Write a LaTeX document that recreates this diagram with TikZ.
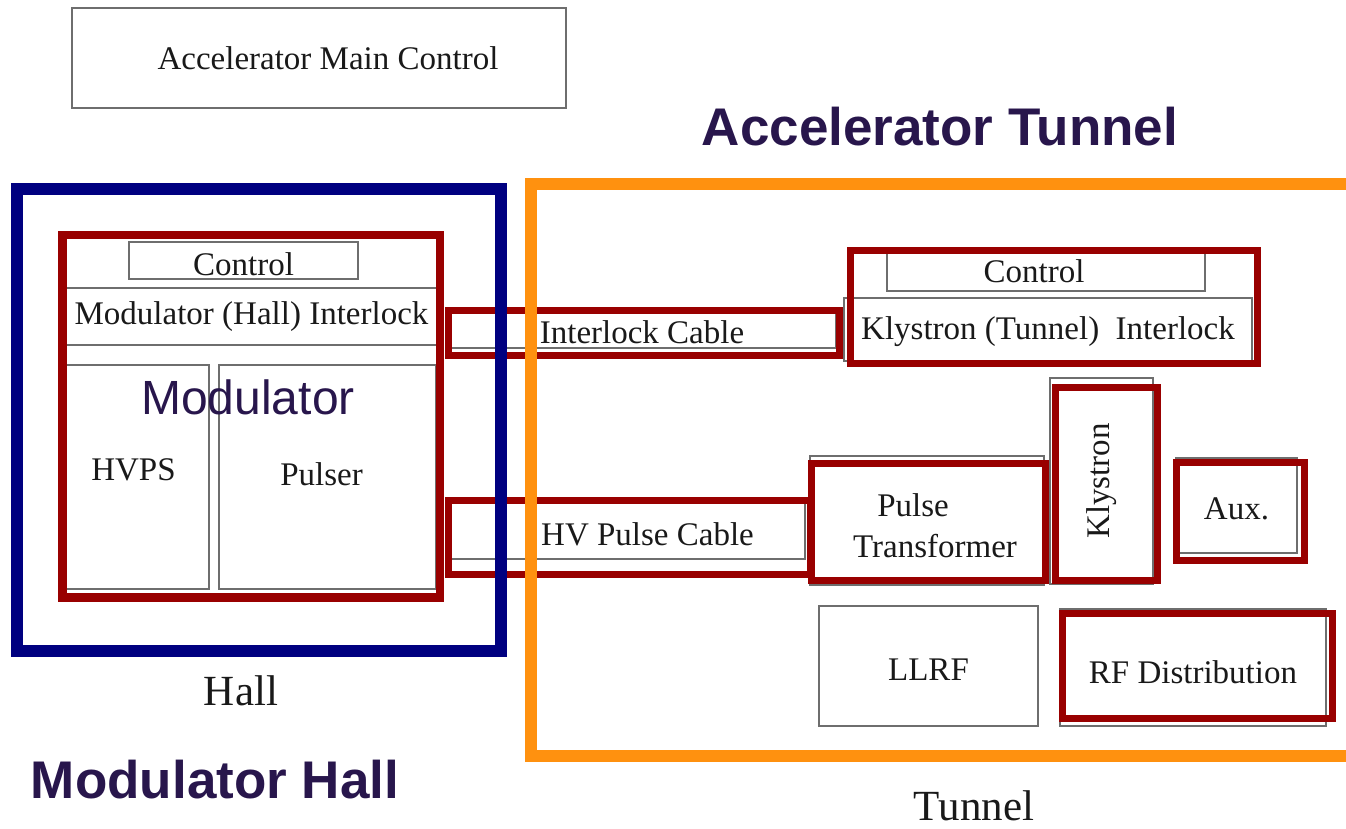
\documentclass[tikz,border=0pt]{standalone}
\usepackage{fontspec}
\setmainfont{Liberation Serif}
\setsansfont{Liberation Sans}
\usepackage{tikz}
\usetikzlibrary{positioning}
\definecolor{frred}{RGB}{153,0,0}
\definecolor{hallblue}{RGB}{0,0,128}
\definecolor{tunorange}{RGB}{255,145,15}
\definecolor{titlepurple}{RGB}{40,22,76}
\definecolor{boxgray}{RGB}{110,110,110}
\newcommand{\lblfont}{\fontsize{33}{41}\selectfont}
\tikzset{
  graybox/.style={draw=boxgray, line width=1.3pt, inner sep=0pt, font=\lblfont,
                  text=black!90, align=center},
  redframe/.style={draw=frred, line width=7pt, inner sep=0pt},
  lbl/.style={font=\lblfont, text=black!90, inner sep=0pt},
  arealbl/.style={font=\fontsize{43}{50}\selectfont, text=black!90, inner sep=0pt},
  titletext/.style={font=\fontsize{53}{60}\selectfont\sffamily\bfseries, text=titlepurple, inner sep=0pt},
  modtext/.style={font=\fontsize{48}{56}\selectfont\sffamily, text=titlepurple, inner sep=0pt}
}

\begin{document}
\begin{tikzpicture}[x=1pt, y=-1pt]
  \useasboundingbox (0,0) rectangle (1346,829);

  % Main control
  \node[graybox, minimum width=494, minimum height=100,
        label={[lbl, xshift=9]center:Accelerator Main Control}] (amc) at (319,58) {};

  % Hall side: modulator
  \node[graybox, minimum width=229, minimum height=37, text height=29.5] (hallctl) at (243.5,260.5) {Control};
  \node[graybox, minimum width=371, minimum height=57] (hallilk) at (251.5,316.5)
        {Modulator (Hall) Interlock};
  \node[graybox, minimum width=143, minimum height=224,
        label={[lbl, xshift=-4, yshift=7]center:HVPS}] (hvps) at (137.5,477) {};
  \node[graybox, minimum width=217, minimum height=224,
        label={[lbl, xshift=-6, yshift=3]center:Pulser}] (pulser) at (327.5,477) {};
  \node[redframe, line width=8.5pt, minimum width=377.5, minimum height=362.5] (modframe) at (251,416) {};
  \node[modtext] (modlabel) at (248,397) {Modulator};

  % Cables
  \node[graybox, minimum width=388, minimum height=36, text height=26.5] (ilkcable) at (642,330) {Interlock Cable};
  \node[graybox, minimum width=359, minimum height=56,
        label={[lbl, xshift=22, yshift=-3]center:HV Pulse Cable}] (hvcable) at (625.5,531) {};
  \node[redframe, minimum width=391, minimum height=44.5] (ilkred) at (643.5,332.75) {};
  \node[redframe, minimum width=362, minimum height=74] (hvred) at (629,537) {};

  % Tunnel side
  \node[graybox, minimum width=318, minimum height=41,
        label={[lbl, xshift=-12, yshift=-1]center:Control}] (tunctl) at (1046,270.5) {};
  \node[graybox, minimum width=408, minimum height=63, text height=27.5] (tunilk) at (1048,329.5)
        {Klystron (Tunnel)\ \ Interlock};
  \node[graybox, rotate=90, minimum width=206, minimum height=103] (klystron) at (1101.5,481) {Klystron};
  \node[graybox, minimum width=234, minimum height=129,
        label={[lbl, align=center, xshift=8, yshift=-5.5]center:Pulse\hspace*{44pt}\\Transformer}] (ptrans) at (927,520.5) {};
  \node[graybox, minimum width=121, minimum height=95, text height=27.5] (aux) at (1236.5,505.5) {Aux.};
  \node[graybox, minimum width=219, minimum height=120, text height=29.5] (llrf) at (928.5,666) {LLRF};
  \node[graybox, minimum width=266, minimum height=117, text height=33] (rfdist) at (1193,667.5) {RF Distribution};

  \node[redframe, minimum width=407, minimum height=113] (tunilkred) at (1053.5,306.5) {};
  \node[redframe, minimum width=102, minimum height=193] (klyred) at (1106,483.5) {};
  \node[redframe, minimum width=234, minimum height=117] (ptred) at (928,521.5) {};
  \node[redframe, minimum width=128, minimum height=98] (auxred) at (1240,511) {};
  \node[redframe, minimum width=270, minimum height=105] (rfred) at (1197,665.5) {};

  % Areas
  \node[draw=hallblue, line width=12pt, minimum width=484, minimum height=461.5] (hall) at (259,420.25) {};
  \node[draw=tunorange, line width=12pt, minimum width=869, minimum height=572] (tunnel) at (965.5,470) {};

  \node[arealbl] (halllbl) at (241,691) {Hall};
  \node[arealbl] (tunlbl) at (974,806) {Tunnel};
  \node[titletext] (tuntitle) at (940,127) {Accelerator Tunnel};
  \node[titletext] (halltitle) at (215,780) {Modulator Hall};
\end{tikzpicture}
\end{document}
